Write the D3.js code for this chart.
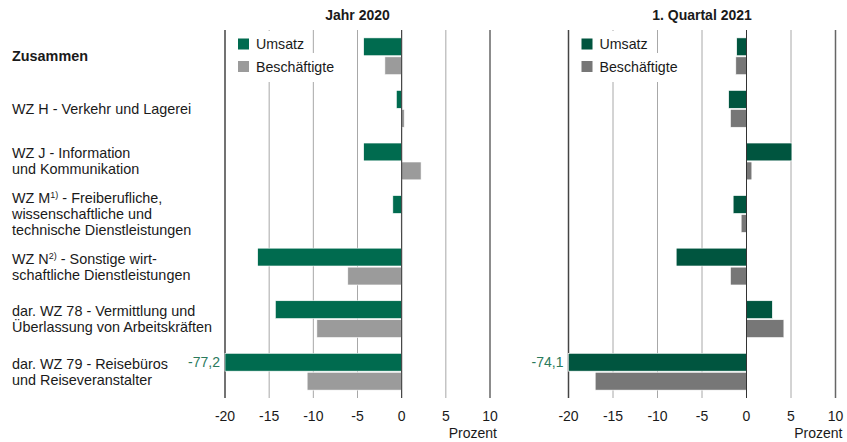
<!DOCTYPE html>
<html>
<head>
<meta charset="utf-8">
<script src="https://d3js.org/d3.v7.min.js"></script>
<style>
  body { margin: 0; background: #fff; }
  text { font-family: "Liberation Sans", Arial, sans-serif; fill: #1a1a1a; }
</style>
</head>
<body>
<div id="chart"></div>
<script>
// ---- data ----
const categories = [
  ["Zusammen"],
  ["WZ H - Verkehr und Lagerei"],
  ["WZ J - Information", "und Kommunikation"],
  ["WZ M|1)| - Freiberufliche,", "wissenschaftliche und", "technische Dienstleistungen"],
  ["WZ N|2)| - Sonstige wirt-", "schaftliche Dienstleistungen"],
  ["dar. WZ 78 - Vermittlung und", "Überlassung von Arbeitskräften"],
  ["dar. WZ 79 - Reisebüros", "und Reiseveranstalter"]
];
const series = ["Umsatz", "Beschäftigte"];
const umsatz2020 = [-4.3, -0.6, -4.3, -1.0, -16.3, -14.3, -77.2];
const besch2020 = [-1.9, 0.3, 2.2, -0.1, -6.1, -9.6, -10.7];
const umsatzQ1 = [-1.1, -2.0, 5.1, -1.5, -7.9, 2.9, -74.1];
const beschQ1 = [-1.2, -1.8, 0.6, -0.6, -1.8, 4.2, -17.0];
const tickValues = [-20, -15, -10, -5, 0, 5, 10];

const width = 847, height = 442;
const plotTop = 30, plotBottom = 398;

const panels = [
  { title: "Jahr 2020", x0: 225, x1: 490, values: [umsatz2020, besch2020], colors: ["#006b4f", "#9b9b9b"] },
  { title: "1. Quartal 2021", x0: 568.5, x1: 835.5, values: [umsatzQ1, beschQ1], colors: ["#00553f", "#777777"] }
];

const svg = d3.select("#chart").append("svg")
  .attr("width", width)
  .attr("height", height);

const y = d3.scaleBand()
  .domain(d3.range(categories.length))
  .range([plotTop, plotBottom])
  .paddingInner(0.3)
  .paddingOuter(0.15);

const ySub = d3.scaleBand()
  .domain(series)
  .range([0, y.bandwidth()])
  .paddingInner(0.06);

// ---- category labels ----
const labels = svg.append("g");
categories.forEach(function(lines, i) {
  const cy = y(i) + y.bandwidth() / 2;
  const lh = 16;
  const t = labels.append("text")
    .attr("x", 12)
    .style("font-size", "14.4px")
    .style("font-weight", i === 0 ? "bold" : "normal");
  lines.forEach(function(line, j) {
    const by = cy - (lines.length - 1) * lh / 2 + j * lh + 5;
    const parts = line.split("|");
    parts.forEach(function(p, k) {
      const ts = t.append("tspan").text(p);
      if (k === 0) ts.attr("x", 12).attr("y", by);
      if (k === 1) ts.style("font-size", "9px").attr("dy", -5);
      if (k === 2) ts.attr("dy", 5);
    });
  });
});

// ---- panels ----
panels.forEach(function(p) {
  const x = d3.scaleLinear().domain([-20, 10]).range([p.x0, p.x1]).clamp(true);
  const g = svg.append("g");

  // grid
  g.selectAll(".grid")
    .data(tickValues)
    .enter().append("line")
    .attr("x1", d => x(d)).attr("x2", d => x(d))
    .attr("y1", plotTop).attr("y2", plotBottom)
    .attr("stroke", d => d === -20 ? "#444" : d === 10 ? "#666" : "#a8a8a8")
    .attr("stroke-width", d => (d === -20 || d === 10) ? 1.5 : 1);

  // legend
  series.forEach(function(s, i) {
    const ly = 44 + i * 22.5;
    const lg = g.append("g");
    const bg = lg.append("rect").attr("fill", "#fff");
    lg.append("rect")
      .attr("x", x(-20) + 13).attr("y", ly - 5.5)
      .attr("width", 11).attr("height", 11)
      .attr("fill", p.colors[i]);
    const t = lg.append("text")
      .attr("x", x(-20) + 31).attr("y", ly + 5)
      .style("font-size", "14.2px")
      .text(s);
    const bb = t.node().getBBox();
    bg.attr("x", x(-20) + 5)
      .attr("y", i === 0 ? 31 : 53)
      .attr("width", bb.x + bb.width + 5 - (x(-20) + 5))
      .attr("height", i === 0 ? 22 : 29);
  });

  // bars
  series.forEach(function(s, si) {
    g.selectAll(".bar" + si)
      .data(p.values[si])
      .enter().append("rect")
      .attr("x", d => Math.min(x(d), x(0)))
      .attr("y", (d, i) => y(i) + ySub(s))
      .attr("width", d => Math.abs(x(d) - x(0)))
      .attr("height", ySub.bandwidth())
      .attr("fill", p.colors[si])
      .attr("stroke", "#fff")
      .attr("stroke-width", 0.6);
  });

  // values beyond the axis
  p.values[0].forEach(function(v, i) {
    if (v < -20) {
      g.append("text")
        .attr("x", x(-20) - 5)
        .attr("y", y(i) + ySub("Umsatz") + ySub.bandwidth() / 2 + 5)
        .attr("text-anchor", "end")
        .style("font-size", "14px")
        .style("fill", "#2a7a5c")
        .text(v.toFixed(1).replace(".", ","));
    }
  });

  // zero line
  g.append("line")
    .attr("x1", x(0)).attr("x2", x(0))
    .attr("y1", plotTop).attr("y2", plotBottom)
    .attr("stroke", "#333").attr("stroke-width", 1);

  // axis labels
  g.selectAll(".tick")
    .data(tickValues)
    .enter().append("text")
    .attr("x", d => x(d))
    .attr("y", 421)
    .attr("text-anchor", "middle")
    .style("font-size", "14px")
    .text(d => d);

  g.append("text")
    .attr("x", x(10) + 7)
    .attr("y", 438)
    .attr("text-anchor", "end")
    .style("font-size", "14px")
    .text("Prozent");

  g.append("text")
    .attr("x", (x(-20) + x(10)) / 2)
    .attr("y", 20)
    .attr("text-anchor", "middle")
    .style("font-size", "14px")
    .style("font-weight", "bold")
    .text(p.title);
});
</script>
</body>
</html>
